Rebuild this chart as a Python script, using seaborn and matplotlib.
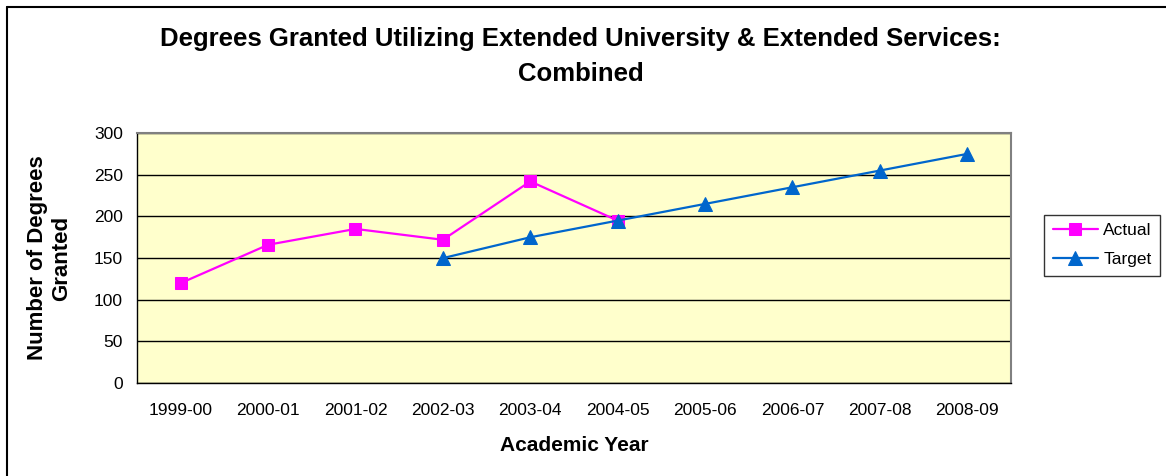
import numpy as np
import pandas as pd
import matplotlib
matplotlib.use("Agg")
import matplotlib.pyplot as plt
import seaborn as sns
from matplotlib.lines import Line2D

sns.set_style("white")
plt.rcParams['font.family'] = ['Liberation Sans', 'DejaVu Sans']
plt.rcParams['text.color'] = 'black'
plt.rcParams['axes.labelcolor'] = 'black'
plt.rcParams['xtick.color'] = 'black'
plt.rcParams['ytick.color'] = 'black'

years = ['1999-00', '2000-01', '2001-02', '2002-03', '2003-04',
         '2004-05', '2005-06', '2006-07', '2007-08', '2008-09']
actual = [120, 166, 185, 172, 242, 195]
target_years = years[3:]
target = [150, 175, 195, 215, 235, 255, 275]

df_actual = pd.DataFrame({'x': [years.index(y) for y in years[:len(actual)]], 'value': actual})
df_target = pd.DataFrame({'x': [years.index(y) for y in target_years], 'value': target})

fig = plt.figure(figsize=(11.66, 4.76), dpi=100)
ax = fig.add_axes([0.1175, 0.195, 0.7495, 0.5255])
ax.set_facecolor('#FFFFCC')

sns.lineplot(data=df_actual, x='x', y='value', ax=ax, color='#FF00FF', linewidth=1.6,
             marker='s', markersize=9, markeredgecolor='#FF00FF', label='Actual')
sns.lineplot(data=df_target, x='x', y='value', ax=ax, color='#0066CC', linewidth=1.6,
             marker='^', markersize=10, markeredgecolor='#0066CC', label='Target')

ax.set_xlim(-0.5, len(years) - 0.5)
ax.set_ylim(0, 300)
ax.set_yticks(np.arange(0, 301, 50))
ax.yaxis.grid(True, color='black', linewidth=1)
ax.set_axisbelow(True)

ax.set_xticks(np.arange(-0.5, len(years), 1))
ax.set_xticklabels([])
ax.set_xticks(np.arange(len(years)), minor=True)
ax.set_xticklabels(years, minor=True, fontsize=12.5)
ax.tick_params(axis='x', which='major', direction='out', length=5, width=1, color='black')
ax.tick_params(axis='x', which='minor', length=0, pad=14)
ax.tick_params(axis='y', direction='out', length=6, width=1, color='black', labelsize=12.5, pad=4)

for s in ax.spines.values():
    s.set_color('#808080')
    s.set_linewidth(1.5)
ax.spines['left'].set_color('black')
ax.spines['left'].set_linewidth(1)
ax.spines['bottom'].set_color('black')
ax.spines['bottom'].set_linewidth(1)

ax.set_xlabel('Academic Year', fontsize=15, fontweight='bold', labelpad=13)
ax.set_ylabel('Number of Degrees\nGranted', fontsize=16, fontweight='bold', labelpad=16)

fig.text(0.498, 0.881, 'Degrees Granted Utilizing Extended University & Extended Services:\nCombined',
         ha='center', va='center', fontsize=18.5, fontweight='bold', linespacing=1.6)

leg = ax.legend(loc='center left', bbox_to_anchor=(1.038, 0.551), frameon=True, fancybox=False,
                edgecolor='black', fontsize=12.5, handlelength=2.6, borderpad=0.5,
                labelspacing=0.8, handletextpad=0.3, borderaxespad=0)
leg.get_frame().set_linewidth(1)

# chart border: only top and left edges are visible in the crop
fig.lines.append(Line2D([0.0058, 0.0058], [0, 0.986], transform=fig.transFigure, color='black', linewidth=1.5))
fig.lines.append(Line2D([0.0058, 1], [0.986, 0.986], transform=fig.transFigure, color='black', linewidth=1.5))

fig.savefig('out.png', dpi=100)
